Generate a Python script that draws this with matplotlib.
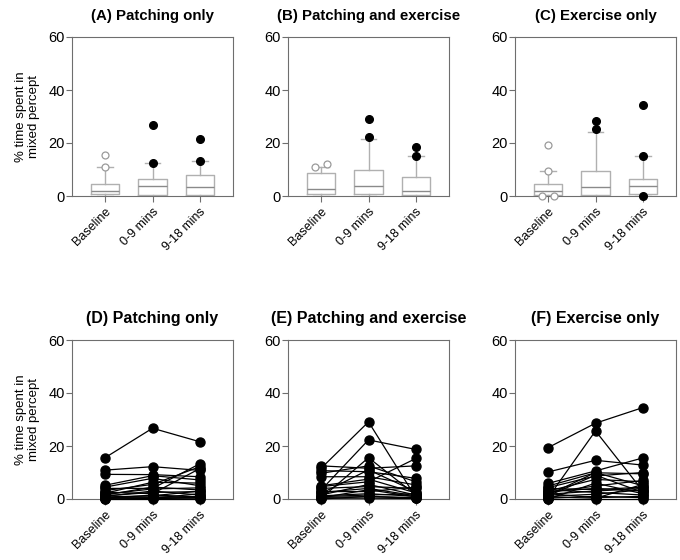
import matplotlib
matplotlib.use("Agg")
import matplotlib.pyplot as plt
import numpy as np

plt.rcParams['font.family'] = ['Liberation Sans', 'DejaVu Sans']

categories = ["Baseline", "0-9 mins", "9-18 mins"]
titles_top = ["(A) Patching only", "(B) Patching and exercise", "(C) Exercise only"]
titles_bot = ["(D) Patching only", "(E) Patching and exercise", "(F) Exercise only"]
ylabel = "% time spent in\nmixed percept"
yticks = [0, 20, 40, 60]

# box statistics per group: [q1, median, q3, whisker_low, whisker_high] per time point
box_A = [[0.6, 1.8, 4.4, 0.0, 11.0], [0.3, 3.8, 6.3, 0.0, 12.3], [0.5, 3.4, 7.9, 0.0, 13.2]]
box_B = [[0.6, 2.8, 8.5, 0.0, 11.0], [0.9, 3.7, 9.8, 0.0, 21.5], [0.3, 1.7, 7.1, 0.0, 15.0]]
box_C = [[0.25, 2.0, 4.5, 0.1, 9.6], [0.5, 3.3, 9.6, 0.0, 24.2], [0.6, 3.9, 6.6, 0.1, 15.0]]
fliers_A = [[11.0, 15.6], [12.3, 26.7], [13.2, 21.6]]
fliers_B = [[10.9, 11.9], [22.1, 29.0], [15.1, 18.6]]
fliers_C = [[9.6, 19.1, 0.0, 0.0], [25.4, 28.4], [15.0, 34.3, 0.0]]

# individual subjects: (baseline, 0-9, 9-18)
subj_A = [
    (15.6, 26.7, 21.6), (10.9, 12.2, 10.8), (9.3, 9.2, 8.4), (5.2, 8.8, 7.2),
    (4.5, 7.8, 5.0), (4.0, 4.0, 13.3), (3.2, 5.5, 12.2), (2.6, 2.0, 11.5),
    (2.2, 6.3, 6.0), (1.8, 3.8, 4.2), (1.5, 4.5, 3.4), (1.2, 2.5, 2.8),
    (1.0, 3.0, 1.5), (0.8, 1.2, 3.0), (0.6, 0.8, 0.5), (0.4, 0.3, 2.0),
    (0.2, 1.5, 0.8), (0.0, 0.2, 0.3), (0.0, 0.0, 0.0), (0.3, 0.5, 1.0)]
subj_B = [
    (11.6, 29.1, 0.6), (3.4, 22.3, 18.7), (0.3, 15.6, 1.5), (12.5, 11.6, 12.5),
    (10.7, 10.3, 7.8), (9.7, 12.5, 6.5), (8.4, 8.4, 5.3), (4.7, 6.5, 15.3),
    (4.0, 4.7, 4.0), (2.1, 11.0, 2.8), (2.8, 2.8, 4.5), (1.5, 5.5, 1.5),
    (0.9, 1.5, 2.0), (0.5, 3.5, 0.8), (0.3, 0.3, 0.2), (0.0, 1.0, 0.5),
    (1.2, 2.0, 1.0), (0.6, 0.9, 0.3), (5.0, 7.5, 2.3), (2.5, 4.0, 1.2)]
subj_C = [
    (19.4, 28.6, 34.5), (0.5, 25.7, 3.0), (10.2, 14.6, 12.8), (5.9, 10.6, 15.5),
    (4.9, 9.9, 9.5), (4.3, 8.7, 10.0), (3.0, 7.4, 6.5), (2.5, 4.9, 7.0),
    (1.8, 3.0, 4.0), (1.5, 10.0, 5.0), (1.0, 1.8, 3.5), (0.0, 0.0, 0.0),
    (0.0, 6.0, 2.0), (2.0, 0.5, 1.0), (3.5, 2.5, 1.5), (0.8, 0.3, 5.5),
    (1.2, 9.0, 2.5), (2.8, 4.0, 3.0), (0.3, 1.0, 0.5), (4.0, 3.5, 4.5)]

W, H = 680, 560
fig = plt.figure(figsize=(W / 100, H / 100), dpi=100)

lefts = [72, 288, 515]
aw = 161
ah = 159
tops = [37, 340]

spine_col = "#6e6e6e"
box_col = "#b0b0b0"


def make_ax(left, top):
    ax = fig.add_axes([left / W, 1 - (top + ah) / H, aw / W, ah / H])
    return ax


def style_ax(ax):
    ax.set_xlim(-0.7, 2.7)
    ax.set_ylim(0, 60)
    ax.set_yticks(yticks)
    ax.set_xticks(range(3))
    ax.set_xticklabels(categories, rotation=45, ha="right", rotation_mode="anchor", fontsize=9)
    ax.tick_params(axis="y", labelsize=10.5, length=4, color=spine_col, width=0.8, pad=1)
    ax.tick_params(axis="x", length=4, color=spine_col, width=0.8, pad=3)
    for s in ax.spines.values():
        s.set_color(spine_col)
        s.set_linewidth(0.8)


boxes = [box_A, box_B, box_C]
fliers = [fliers_A, fliers_B, fliers_C]
subjs = [subj_A, subj_B, subj_C]

for g in range(3):
    ax = make_ax(lefts[g], tops[0])
    stats = []
    for i, (q1, med, q3, wl, wh) in enumerate(boxes[g]):
        stats.append(dict(q1=q1, med=med, q3=q3, whislo=wl, whishi=wh, fliers=[]))
    ax.bxp(stats, positions=range(3), widths=0.6, showfliers=False, manage_ticks=False,
           boxprops=dict(color=box_col, linewidth=1.0),
           medianprops=dict(color="#8a8a8a", linewidth=1.0),
           whiskerprops=dict(color=box_col, linewidth=1.0),
           capprops=dict(color=box_col, linewidth=1.0),
           capwidths=0.33)
    for i, fl in enumerate(fliers[g]):
        fl = np.array(fl)
        xs = np.full(len(fl), float(i))
        for a in range(len(fl)):
            close = [b for b in range(len(fl)) if abs(fl[b] - fl[a]) < 1.6]
            if len(close) > 1:
                k = close.index(a)
                xs[a] = i + (k - (len(close) - 1) / 2) * 0.24
        if i == 0:
            ax.plot(xs, fl, "o", ms=5, mfc="white", mec="#9a9a9a", mew=0.9, clip_on=False, zorder=3)
        else:
            ax.plot(xs, fl, "o", ms=5.5, mfc="black", mec="black", clip_on=False, zorder=3)
    style_ax(ax)
    ax.set_title(titles_top[g], fontsize=10.8, fontweight="bold", pad=12)
    if g == 0:
        ax.set_ylabel(ylabel, fontsize=9.5, labelpad=6)

for g in range(3):
    ax = make_ax(lefts[g], tops[1])
    for s in subjs[g]:
        ax.plot(range(3), s, "-o", color="black", lw=0.9, ms=6.5, clip_on=False, zorder=3)
    style_ax(ax)
    ax.set_title(titles_bot[g], fontsize=11.5, fontweight="bold", pad=12)
    if g == 0:
        ax.set_ylabel(ylabel, fontsize=9.5, labelpad=6)

fig.savefig("out.png", dpi=100)
